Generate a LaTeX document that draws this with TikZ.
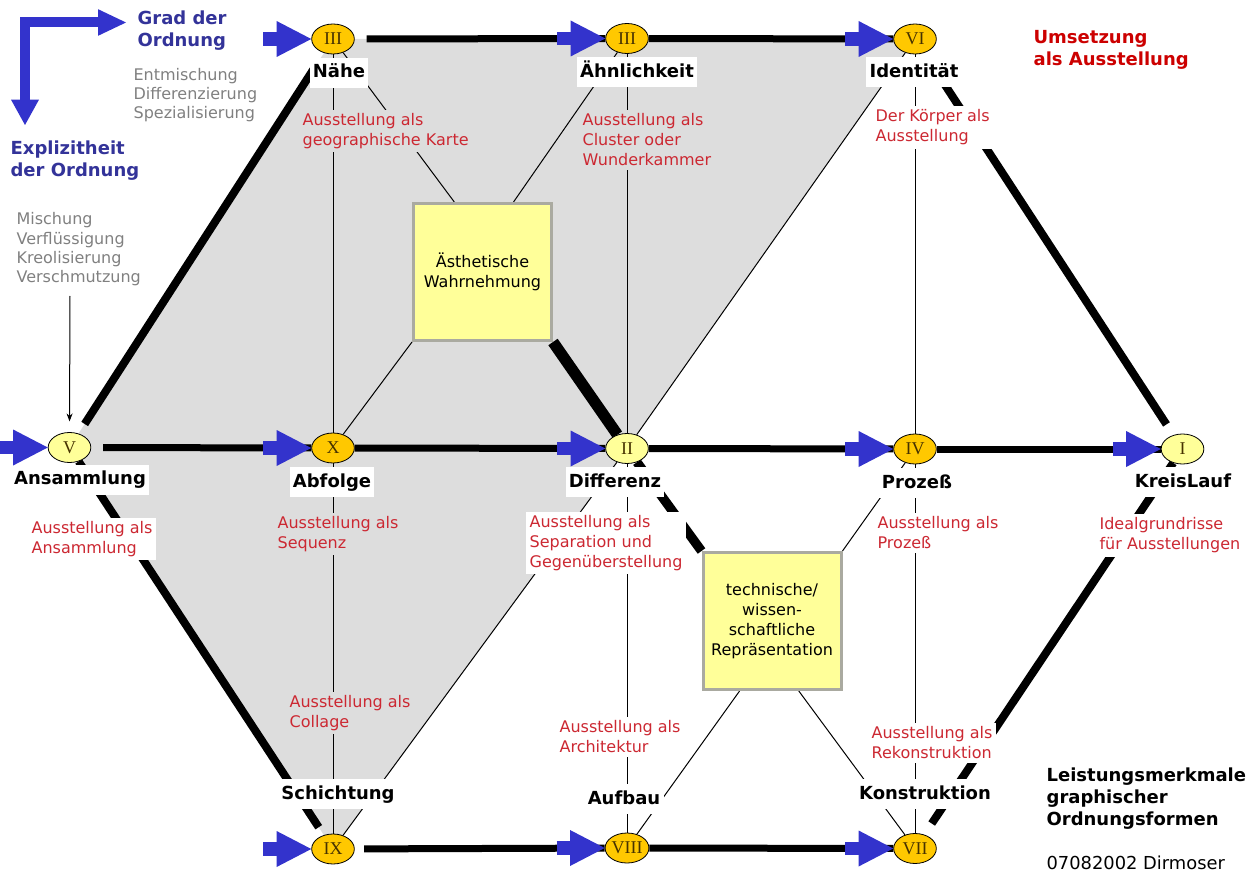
\documentclass[tikz,border=0pt]{standalone}
\usepackage{fontspec}
\setmainfont{DejaVu Sans}
\newfontfamily\ziffern{Liberation Serif}
\usetikzlibrary{arrows.meta,calc,shapes.geometric}

\definecolor{stufe}{RGB}{255,200,0}
\definecolor{hellgelb}{RGB}{255,255,153}
\definecolor{flaeche}{RGB}{221,221,221}
\definecolor{pfeilblau}{RGB}{51,51,204}
\definecolor{titelblau}{RGB}{51,51,153}
\definecolor{textrot}{RGB}{204,40,50}
\definecolor{titelrot}{RGB}{204,0,0}
\definecolor{textgrau}{RGB}{128,128,128}
\definecolor{rahmen}{RGB}{170,170,160}
\definecolor{zifferbraun}{RGB}{70,50,0}

\pgfdeclarelayer{hinten}
\pgfdeclarelayer{linien}
\pgfsetlayers{hinten,linien,main}

\begin{document}
\begin{tikzpicture}[x=0.75pt,y=-0.75pt,
		ordnung/.style={ellipse,draw=black,line width=0.6pt,fill=stufe,minimum width=32pt,minimum height=22.5pt,inner sep=0pt,text=zifferbraun,font=\ziffern\fontsize{13.5}{13.5}\selectfont},
		ordnunghell/.style={ordnung,fill=hellgelb},
		begriff/.style={fill=white,inner xsep=2.5pt,inner ysep=4.5pt,text height=10.5pt,text depth=3pt,font=\bfseries\fontsize{13.5}{16.5}\selectfont},
		titel/.style={anchor=west,align=left,inner sep=2.5pt,font=\bfseries\fontsize{13.5}{16.5}\selectfont},
		ausstellung/.style={anchor=west,align=left,fill=white,text=textrot,inner sep=2.5pt,font=\fontsize{12}{15}\selectfont},
		ausstellunggrau/.style={ausstellung,fill=flaeche},
		stichwort/.style={anchor=west,align=left,text=textgrau,inner sep=2.5pt,font=\fontsize{12}{14.5}\selectfont},
		feld/.style={rectangle,fill=hellgelb,draw=rahmen,line width=2.25pt,minimum width=103.5pt,minimum height=102.75pt,align=center,font=\fontsize{12}{15}\selectfont},
		duenn/.style={line width=0.75pt},
		zeile/.style={line width=5.25pt},
		kante/.style={line width=6pt},
		achse/.style={line width=8.5pt},
		zufluss/.style={pfeilblau,line width=10pt,-{Triangle[length=26pt,width=27pt,line width=0pt]}}
	]
	\useasboundingbox (0,0) rectangle (1260,891);

	\node[ordnung] (naehe) at (333,39) {III};
	\node[ordnung] (aehnl) at (627,38.5) {III};
	\node[ordnung] (ident) at (915,39) {VI};
	\node[ordnunghell] (ansam) at (69.5,447.5) {V};
	\node[ordnung] (abfol) at (333,448) {X};
	\node[ordnunghell] (diff) at (627,448.5) {II};
	\node[ordnung] (proz) at (915,449) {IV};
	\node[ordnunghell] (kreis) at (1182.5,449) {I};
	\node[ordnung] (schicht) at (333,849) {IX};
	\node[ordnung] (aufb) at (627,848) {VIII};
	\node[ordnung] (konstr) at (915,848.5) {VII};

	\node[feld] (aest) at (482.5,272) {Ästhetische\\Wahrnehmung};
	\node[feld] (tech) at (772,621) {technische/\\wissen-\\schaftliche\\Repräsentation};

	\node[begriff] (naehe-l) at (339,73) {Nähe};
	\node[begriff] (aehnl-l) at (637,72.5) {Ähnlichkeit};
	\node[begriff] (ident-l) at (914,72.5) {Identität};
	\node[begriff] (ansam-l) at (80,479.5) {Ansammlung};
	\node[begriff] (abfol-l) at (332,482) {Abfolge};
	\node[begriff] (diff-l) at (615,482) {Differenz};
	\node[begriff] (proz-l) at (917,483) {Prozeß};
	\node[begriff] (kreis-l) at (1183,482) {KreisLauf};
	\node[begriff] (schicht-l) at (338,794) {Schichtung};
	\node[begriff] (aufb-l) at (624,799) {Aufbau};
	\node[begriff] (konstr-l) at (925,794) {Konstruktion};

	\node[ausstellunggrau] (karte) at (299,131) {Ausstellung als\\geographische Karte};
	\node[ausstellunggrau] (cluster) at (579,140) {Ausstellung als\\Cluster oder\\Wunderkammer};
	\node[ausstellung] (koerper) at (872,127.5) {Der Körper als\\Ausstellung};
	\node[ausstellung] (sammlung) at (28,539) {Ausstellung als\\Ansammlung};
	\node[ausstellunggrau] (sequenz) at (274,534) {Ausstellung als\\Sequenz};
	\node[ausstellung] (separation) at (526,543) {Ausstellung als\\Separation und\\Gegenüberstellung};
	\node[ausstellung] (prozess) at (874,533) {Ausstellung als\\Prozeß};
	\node[ausstellung] (ideal) at (1096,535.5) {Idealgrundrisse\\für Ausstellungen};
	\node[ausstellunggrau] (collage) at (286,713) {Ausstellung als\\Collage};
	\node[ausstellung] (architektur) at (556,737) {Ausstellung als\\Architektur};
	\node[ausstellung] (rekon) at (868,743) {Ausstellung als\\Rekonstruktion};

	\node[titel,text=titelblau] (grad) at (134,30.5) {Grad der\\Ordnung};
	\node[titel,text=titelblau] (explizit) at (7,161) {Explizitheit\\der Ordnung};
	\node[stichwort] (entmisch) at (130,95) {Entmischung\\Differenzierung\\Spezialisierung};
	\node[stichwort] (misch) at (13,249.5) {Mischung\\Verflüssigung\\Kreolisierung\\Verschmutzung};
	\node[titel,text=titelrot] (umsetzung) at (1030,50) {Umsetzung\\als Ausstellung};
	\node[titel] (leistung) at (1043,799) {Leistungsmerkmale\\graphischer\\Ordnungsformen};
	\node[anchor=west,inner sep=2.5pt,font=\fontsize{13.4}{16}\selectfont] (datum) at (1043,863) {07082002 Dirmoser};

	\coordinate (mischpfeil) at (70,296);
	\coordinate (ecke) at (25,22.5);
	\coordinate (nachunten) at (25,125);
	\coordinate (nachrechts) at (126,22.5);

	\begin{pgfonlayer}{hinten}
		\fill[flaeche] (naehe.center) -- (ident.center) -- (diff.center) -- (schicht.center) -- (ansam.center) -- cycle;
	\end{pgfonlayer}

	\begin{pgfonlayer}{linien}
		\draw[duenn] (naehe) -- (schicht);
		\draw[duenn] (aehnl) -- (aufb);
		\draw[duenn] (ident) -- (konstr);
		\draw[duenn] (naehe) -- ($(aest.north west)!0.3!(aest.north east)$);
		\draw[duenn] (aehnl) -- ($(aest.north west)!0.72!(aest.north east)$);
		\draw[duenn] (aest.south west) -- (abfol);
		\draw[duenn] (ident) -- (diff);
		\draw[duenn] (diff) -- (schicht);
		\draw[duenn] (proz) -- (tech.north east);
		\draw[duenn] ($(tech.south west)!0.27!(tech.south east)$) -- (aufb);
		\draw[duenn] ($(tech.south west)!0.69!(tech.south east)$) -- (konstr);
		\draw[duenn,-{Stealth[length=6pt,width=4.5pt]},shorten >=8pt] (mischpfeil) -- (ansam.north);

		\draw[zeile,shorten <=9pt] (naehe) -- (aehnl);
		\draw[zeile] (aehnl) -- (ident);
		\draw[zeile,shorten <=9pt] (ansam) -- (abfol);
		\draw[zeile] (abfol) -- (diff);
		\draw[zeile] (diff) -- (proz);
		\draw[zeile] (proz) -- (kreis);
		\draw[zeile,shorten <=7pt] (schicht) -- (aufb);
		\draw[zeile] (aufb) -- (konstr);

		\draw[kante,shorten <=8.5pt,shorten >=12pt] (ansam) -- (naehe);
		\draw[kante,shorten >=7pt] (ansam) -- (schicht);
		\draw[kante,shorten <=12pt,shorten >=9.5pt] (ident) -- (kreis);
		\draw[kante,shorten >=10pt] (kreis) -- (konstr);

		\draw[achse] (aest.south east) -- (diff);
		\draw[achse,line width=7pt] (diff) -- (tech.north west);
	\end{pgfonlayer}

	\draw[zufluss] ([xshift=-36pt]naehe.west) -- (naehe.west);
	\draw[zufluss] ([xshift=-36pt]aehnl.west) -- (aehnl.west);
	\draw[zufluss] ([xshift=-36pt]ident.west) -- (ident.west);
	\draw[zufluss] ([xshift=-36pt]ansam.west) -- (ansam.west);
	\draw[zufluss] ([xshift=-36pt]abfol.west) -- (abfol.west);
	\draw[zufluss] ([xshift=-36pt]diff.west) -- (diff.west);
	\draw[zufluss] ([xshift=-36pt]proz.west) -- (proz.west);
	\draw[zufluss] ([xshift=-36pt]kreis.west) -- (kreis.west);
	\draw[zufluss] ([xshift=-36pt]schicht.west) -- (schicht.west);
	\draw[zufluss] ([xshift=-36pt]aufb.west) -- (aufb.west);
	\draw[zufluss] ([xshift=-36pt]konstr.west) -- (konstr.west);

	\draw[pfeilblau,line width=7.5pt,line join=miter,{Triangle[length=19pt,width=21pt,line width=0pt]}-{Triangle[length=21pt,width=20pt,line width=0pt]}] (nachunten) -- (ecke) -- (nachrechts);
\end{tikzpicture}
\end{document}
